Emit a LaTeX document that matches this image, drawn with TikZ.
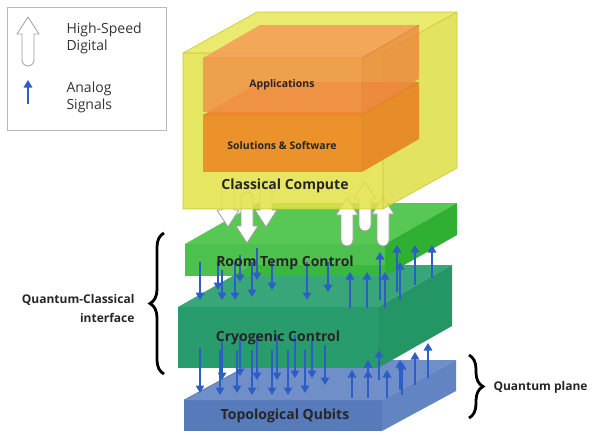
\documentclass[tikz,border=0pt]{standalone}
\usepackage{fontspec}
\setmainfont{Open Sans}
\usetikzlibrary{positioning,arrows.meta,decorations.pathreplacing}

\definecolor{ccfront}{RGB}{226,226,72}
\definecolor{cctop}{RGB}{232,232,95}
\definecolor{ccside}{RGB}{222,222,70}
\definecolor{ccedge}{RGB}{200,200,45}
\definecolor{appfront}{RGB}{240,148,72}
\definecolor{apptop}{RGB}{243,160,88}
\definecolor{appside}{RGB}{236,140,64}
\definecolor{solfront}{RGB}{236,146,42}
\definecolor{soltop}{RGB}{240,135,50}
\definecolor{solside}{RGB}{230,140,40}
\definecolor{rtfront}{RGB}{58,186,58}
\definecolor{rttop}{RGB}{88,200,84}
\definecolor{rtside}{RGB}{48,176,50}
\definecolor{cryfront}{RGB}{40,156,108}
\definecolor{crytop}{RGB}{56,166,120}
\definecolor{cryside}{RGB}{36,150,102}
\definecolor{qbfront}{RGB}{86,122,186}
\definecolor{qbtop}{RGB}{112,142,200}
\definecolor{qbside}{RGB}{98,132,194}
\definecolor{analogblue}{RGB}{44,94,198}

% x, y of front top left, width, height, depth x, depth y, front, top, side
\newcommand\slab[9]{%
	\fill[#7] (#1,#2) rectangle ++(#3,#4);
	\fill[#8] (#1,#2) -- ++(#5,-#6) -- ++(#3,0) -- ++(-#5,#6) -- cycle;
	\fill[#9] (#1+#3,#2) -- ++(#5,-#6) -- ++(0,#4) -- ++(-#5,#6) -- cycle;
}
\newcommand\digidown[3]{%
	\draw[digital] (#1-6,#2) arc (180:360:6) -- (#1+6,#3-17) -- (#1+11,#3-17) -- (#1,#3) -- (#1-11,#3-17) -- (#1-6,#3-17) -- cycle;
}
\newcommand\digiup[3]{%
	\draw[digital] (#1+6,#2) arc (0:180:6) -- (#1-6,#3+17) -- (#1-11,#3+17) -- (#1,#3) -- (#1+11,#3+17) -- (#1+6,#3+17) -- cycle;
}

\tikzset{
	digital/.style={draw=gray!75,fill=white,line width=0.8pt,line join=round},
	analog/.style={draw=analogblue,line width=1.6pt,-{Triangle[length=7.5pt,width=8.5pt]}},
	boxlabel/.style={font=\bfseries\fontsize{14}{16}\selectfont,text=black!85},
	smalllabel/.style={font=\bfseries\fontsize{10.5}{12}\selectfont,text=black!85},
	sidelabel/.style={font=\bfseries\fontsize{12}{19}\selectfont,text=black!85},
	legtext/.style={font=\fontsize{14}{17}\selectfont,text=black!80,align=left,anchor=west},
	brace/.style={decorate,decoration={brace,amplitude=14pt},line width=2.8pt}
}

\begin{document}
\begin{tikzpicture}[x=1pt,y=-1pt]
	\useasboundingbox (0,0) rectangle (592,434);

	\slab{184}{400}{198}{31}{74}{40}{qbfront}{qbtop}{qbside}
	\draw[qbfront!80!black,line width=0.4pt] (184,400) -- ++(74,-40) -- ++(0,31);
	\slab{178}{307}{200}{61}{74}{42}{cryfront}{crytop}{cryside}
	\slab{185}{244}{200}{32}{72}{41}{rtfront,fill opacity=0.9}{rttop}{rtside}

	\digidown{228}{186}{227}
	\digidown{247}{198}{243}
	\digidown{266}{186}{227}
	\digiup{347}{240}{198}
	\digiup{365}{225}{182}
	\digiup{383}{240}{197}

	\slab{183}{53}{200}{156}{74}{41}{ccfront,fill opacity=0.85}{cctop,fill opacity=0.9}{ccside,fill opacity=0.85}
	\draw[ccedge,line width=0.6pt] (183,53) -- ++(74,-41) -- ++(200,0) -- ++(0,156) -- ++(-74,41) -- ++(-200,0) -- cycle;
	\draw[ccedge,line width=0.6pt] (183,53) -- ++(200,0) -- ++(74,-41) (383,53) -- ++(0,156);

	\slab{203}{115}{159}{57}{57}{33}{solfront}{soltop}{solside}
	\slab{203}{58}{159}{54}{57}{33}{appfront,fill opacity=0.85}{apptop,fill opacity=0.9}{appside,fill opacity=0.85}
	\draw[appfront!85!black,line width=0.4pt] (203,58) -- ++(159,0) -- ++(57,-33) (362,58) -- ++(0,54);
	\draw[solfront!85!black,line width=0.4pt] (203,115) -- ++(159,0) -- ++(57,-33) (362,115) -- ++(0,57);

	\foreach \x/\a/\b in {200/262/300, 218/262/290, 222/270/300, 235/262/300, 240/255/282, 252/262/297, 257/248/280, 272/262/290, 307/262/300, 328/262/292}
		\draw[analog] (\x,\a) -- (\x,\b);
	\foreach \x/\a/\b in {350/308/272, 367/308/272, 380/300/252, 385/308/272, 397/292/245, 400/300/262, 415/285/245, 432/278/245}
		\draw[analog] (\x,\a) -- (\x,\b);
	\foreach \x/\a/\b in {200/348/393, 220/350/395, 222/340/380, 237/350/393, 240/335/376, 252/350/395, 257/335/380, 272/350/395, 277/335/380, 288/350/395, 295/335/378, 305/350/393, 312/340/378, 325/345/385}
		\draw[analog] (\x,\a) -- (\x,\b);
	\foreach \x/\a/\b in {352/398/370, 368/398/370, 368/390/360, 379/380/350, 387/398/370, 400/390/360, 402/395/362, 415/385/352, 428/378/343}
		\draw[analog] (\x,\a) -- (\x,\b);

	\node[smalllabel] (app) at (282,85) {Applications};
	\node[smalllabel] (sol) at (282,146) {Solutions \& Software};
	\node[boxlabel] (cc) at (285,186) {Classical Compute};
	\node[boxlabel] (rtc) at (285,263) {Room Temp Control};
	\node[boxlabel] (cry) at (278,338) {Cryogenic Control};
	\node[boxlabel] (tq) at (285,416) {Topological Qubits};

	\draw[brace] (164,374) -- (164,233);
	\node[sidelabel,align=right,anchor=east] (qci) at (138,308) {Quantum-Classical\\interface};
	\draw[brace] (469,355) -- (469,418);
	\node[sidelabel,anchor=west] (qp) at (490,387) {Quantum plane};

	\node[draw=gray!55,line width=0.8pt,minimum width=159pt,minimum height=123pt,anchor=north west] (legend) at (7,7) {};
	\digiup{28}{60}{17}
	\draw[analog] (28,104) -- (28,80);
	\node[legtext] (hsd) at (63,38) {High-Speed\\Digital};
	\node[legtext] (as) at (63,97) {Analog\\Signals};
\end{tikzpicture}
\end{document}
